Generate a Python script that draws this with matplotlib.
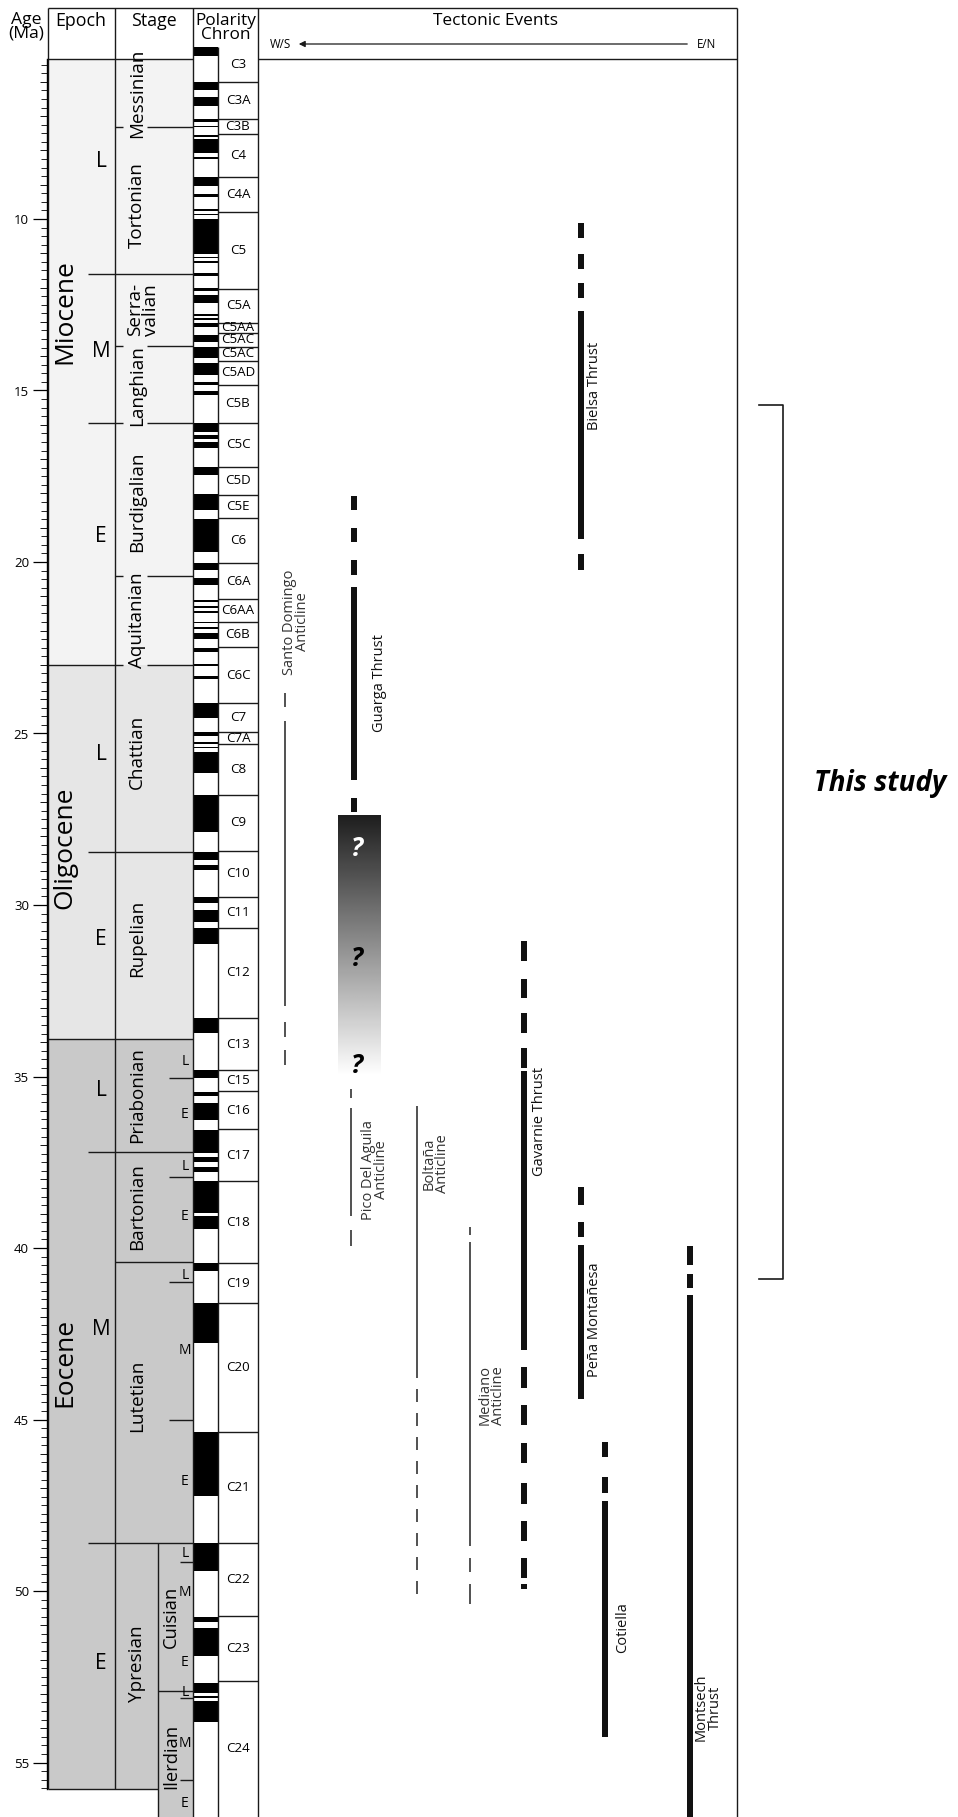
import numpy as np
import matplotlib.pyplot as plt

plt.rcParams['font.family'] = ['Open Sans', 'DejaVu Sans']

# ---- time scale (ages in Ma) ----
epoch_names = ['Miocene', 'Oligocene', 'Eocene']
epoch_tops = [5.33, 23.0, 33.91]
epoch_bases = [23.0, 33.91, 55.78]
epoch_label_ages = [12.7, 28.34, 43.33]
epoch_colors = ['#f3f3f3', '#e6e6e6', '#c9c9c9']

subepoch_labels = ['L', 'M', 'E', 'L', 'E', 'L', 'M', 'E']
subepoch_label_ages = [8.33, 13.87, 19.26, 25.62, 31.02, 35.4, 42.39, 52.1]
subepoch_bounds = [11.61, 15.96, 28.45, 37.21, 48.6]

stage_names = ['Messinian', 'Tortonian', 'Serra-\nvalian', 'Langhian', 'Burdigalian',
               'Aquitanian', 'Chattian', 'Rupelian', 'Priabonian', 'Bartonian',
               'Lutetian', 'Ypresian']
stage_tops = [5.33, 7.31, 11.61, 13.69, 15.96, 20.41, 23.0, 28.45, 33.91, 37.21, 40.42, 48.6]
stage_label_ages = [6.35, 9.59, 12.65, 14.87, 18.23, 21.69, 25.55, 30.96, 35.55, 38.8, 44.31, 52.13]
stage_gap_bounds = [7.31, 13.69, 15.96, 20.41, 23.0]

regstage_names = ['Cuisian', 'Ilerdian']
regstage_tops = [48.6, 52.91]
regstage_label_ages = [50.76, 54.81]

substage_labels = ['L', 'E', 'L', 'E', 'L', 'M', 'E', 'L', 'M', 'E', 'L', 'M', 'E']
substage_ages = [34.57, 36.12, 37.63, 39.09, 40.79, 42.98, 46.81, 48.92, 50.05, 52.08, 52.96, 54.44, 56.2]
substage_long_ticks = [35.05, 37.94, 40.98, 45.0]
substage_short_ticks = [49.14, 53.13, 55.51]

chron_names = ['C3', 'C3A', 'C3B', 'C4', 'C4A', 'C5', 'C5A', 'C5AA', 'C5AC', 'C5AC', 'C5AD',
               'C5B', 'C5C', 'C5D', 'C5E', 'C6', 'C6A', 'C6AA', 'C6B', 'C6C', 'C7', 'C7A',
               'C8', 'C9', 'C10', 'C11', 'C12', 'C13', 'C15', 'C16', 'C17', 'C18', 'C19',
               'C20', 'C21', 'C22', 'C23', 'C24']
chron_tops = [4.99, 6.01, 7.08, 7.52, 8.77, 9.79, 12.05, 13.02, 13.33, 13.72, 14.13,
              14.84, 15.94, 17.22, 18.05, 18.73, 20.02, 21.09, 21.74, 22.49, 24.12, 24.95,
              25.32, 26.78, 28.43, 29.76, 30.66, 33.30, 34.81, 35.42, 36.54, 38.06, 40.45,
              41.60, 45.37, 48.60, 50.73, 52.62]

normal_polarity = [
    (4.99, 5.24), (6.01, 6.24), (6.45, 6.70), (7.09, 7.18), (7.28, 7.33), (7.55, 7.62),
    (7.68, 8.08), (8.20, 8.26), (8.77, 9.03), (9.28, 9.37), (9.71, 9.76), (9.84, 9.89),
    (10.01, 11.03), (11.10, 11.15), (11.22, 11.27), (11.58, 11.65), (12.02, 12.09),
    (12.22, 12.44), (12.78, 12.83), (12.90, 12.95), (13.02, 13.14), (13.38, 13.58),
    (13.72, 14.06), (14.21, 14.55), (14.75, 14.84), (15.02, 15.13), (15.96, 16.20),
    (16.30, 16.40), (16.50, 16.69), (17.22, 17.46), (18.02, 18.48), (18.76, 19.70),
    (20.04, 20.23), (20.48, 20.67), (21.11, 21.18), (21.27, 21.33), (21.43, 21.49),
    (21.74, 21.79), (21.89, 21.96), (22.08, 22.25), (22.52, 22.62), (22.98, 23.04),
    (23.32, 23.40), (24.12, 24.56), (24.97, 25.06), (25.24, 25.31), (25.39, 25.43),
    (25.53, 26.16), (26.78, 27.86), (28.45, 28.69), (28.83, 28.98), (29.76, 29.95),
    (30.15, 30.49), (30.66, 31.14), (33.30, 33.74), (34.81, 35.05), (35.44, 35.57),
    (35.76, 36.27), (36.56, 37.22), (37.36, 37.50), (37.63, 37.78), (38.06, 38.99),
    (39.07, 39.46), (40.45, 40.66), (41.61, 42.78), (45.37, 47.22), (48.60, 49.42),
    (50.75, 50.91), (51.07, 51.89), (52.69, 52.98), (53.06, 53.11), (53.21, 53.81)]

# ---- tectonic events ----
event_names = ['Santo Domingo\nAnticline', 'Guarga Thrust', 'Pico Del Aguila\nAnticline',
               'Boltaña\nAnticline', 'Mediano\nAnticline', 'Gavarnie Thrust',
               'Bielsa Thrust', 'Peña Montañesa', 'Cotiella', 'Montsech\nThrust']
event_kind = ['anticline', 'thrust', 'anticline', 'anticline', 'anticline', 'thrust',
              'thrust', 'thrust', 'thrust', 'thrust']
event_solid = [(24.63, 32.95), (20.74, 26.36), (35.93, 39.07), (35.87, 43.80), (39.82, 48.70),
               (34.85, 42.96), (12.67, 19.32), (39.92, 44.41), (47.38, 54.27), (41.37, 56.59)]
event_dashes = [
    [(23.81, 24.22), (33.40, 33.84), (34.24, 34.66)],
    [(18.07, 18.47), (19.01, 19.42), (19.93, 20.37), (26.87, 27.28)],
    [(35.36, 35.63), (39.48, 39.95)],
    [(44.10, 44.50), (44.80, 45.20), (45.50, 45.90), (46.20, 46.60), (46.90, 47.30),
     (47.60, 48.00), (48.30, 48.70), (49.00, 49.40), (49.70, 50.10)],
    [(39.40, 39.62), (49.04, 49.44), (49.80, 50.38)],
    [(31.04, 31.64), (32.15, 32.72), (33.16, 33.74), (34.18, 34.75), (43.46, 44.07),
     (44.58, 45.15), (45.69, 46.27), (46.84, 47.45), (47.95, 48.53), (49.04, 49.61),
     (49.81, 49.95)],
    [(10.13, 10.54), (11.01, 11.45), (11.86, 12.29), (19.76, 20.23)],
    [(38.23, 38.74), (39.24, 39.68)],
    [(45.66, 46.10), (46.67, 47.14)],
    [(39.95, 40.49), (40.76, 41.17)]]
event_x = [285, 354, 351, 417, 470, 524, 581, 581, 605, 690]
event_label_x = [296, 380, 375, 436, 492, 540, 595, 595, 623, 708]
event_label_ages = [21.75, 23.54, 37.72, 37.55, 44.3, 36.3, 14.86, 42.1, 51.06, 53.4]

uncertain_top, uncertain_base = 27.41, 35.0
question_ages = [28.35, 31.55, 34.67]
question_colors = ['white', 'black', 'black']

study_top, study_base = 15.43, 40.9

# ---- page geometry (pixels) ----
PX_PER_MA = 34.3
Y0 = -124.0


def age_at(px):
    return (px - Y0) / PX_PER_MA


age_bottom = age_at(1817)
row_top = age_at(8)
head_base = 5.33
EP_L, EP_R, SUB_X, ST_R, CU_L, POL_R, CH_R, TE_R = 48, 115, 88, 193, 158, 218, 258, 737
LC = '#1a1a1a'
LW = 1.0

fig = plt.figure(figsize=(9.58, 18.17), dpi=100)
ax = fig.add_axes([0, 0, 1, 1])

# column fills
for top, base, col in zip(epoch_tops, epoch_bases, epoch_colors):
    ax.bar((EP_L + ST_R) / 2, base - top, bottom=top, width=ST_R - EP_L, color=col, lw=0)
ax.bar((CU_L + ST_R) / 2, age_bottom - epoch_bases[-1], bottom=epoch_bases[-1],
       width=ST_R - CU_L, color=epoch_colors[-1], lw=0)

# polarity
for t, b in normal_polarity:
    ax.bar((ST_R + POL_R) / 2, b - t, bottom=t, width=POL_R - ST_R, color='black', lw=0)

# frame
ax.vlines([EP_L, EP_R], epoch_bases[-1], row_top, color=LC, lw=LW)
ax.vlines([ST_R, CH_R, TE_R], age_bottom, row_top, color=LC, lw=LW)
ax.vlines(POL_R, age_bottom, chron_tops[0], color=LC, lw=LW)
ax.vlines(CU_L, age_bottom, regstage_tops[0], color=LC, lw=LW)
ax.hlines(row_top, EP_L, TE_R, color=LC, lw=LW)
ax.hlines(head_base, EP_L, ST_R, color=LC, lw=LW)
ax.hlines(head_base, CH_R, TE_R, color=LC, lw=LW)
ax.hlines(epoch_bases[-1], EP_L, CU_L, color=LC, lw=LW)

# stage / epoch boundaries
for a in stage_tops[1:]:
    x0 = EP_L if a in epoch_tops else (SUB_X if a in subepoch_bounds else EP_R)
    if a in stage_gap_bounds:
        ax.hlines(a, x0, 123, color=LC, lw=LW)
        ax.hlines(a, 147, ST_R, color=LC, lw=LW)
    else:
        ax.hlines(a, x0, ST_R, color=LC, lw=LW)
ax.hlines(regstage_tops[1], CU_L, ST_R, color=LC, lw=LW)
ax.hlines(substage_long_ticks, 169, ST_R, color=LC, lw=LW)
ax.hlines(substage_short_ticks, 180, ST_R, color=LC, lw=LW)

# texts of the time scale
for name, a in zip(epoch_names, epoch_label_ages):
    ax.text(65, a, name, rotation=90, ha='center', va='center', fontsize=19)
for lab, a in zip(subepoch_labels, subepoch_label_ages):
    ax.text(101, a, lab, ha='center', va='center', fontsize=15)
for name, a in zip(stage_names, stage_label_ages):
    ax.text(143 if '\n' in name else 137, a, name, rotation=90, ha='center', va='center',
            fontsize=13.6, linespacing=0.8, multialignment='center')
for name, a in zip(regstage_names, regstage_label_ages):
    ax.text(171, a, name, rotation=90, ha='center', va='center', fontsize=13.2)
for lab, a in zip(substage_labels, substage_ages):
    ax.text(185, a, lab, ha='center', va='center', fontsize=10)

# chron labels
chron_bases = chron_tops[1:] + [age_bottom]
ax.hlines(chron_tops[1:], POL_R, CH_R, color=LC, lw=LW)
for name, t, b in zip(chron_names, chron_tops, chron_bases):
    ax.text((POL_R + CH_R) / 2, (t + b) / 2, name, ha='center', va='center', fontsize=9.6)

# tectonic events
for name, kind, solid, dashes, x, lx, la in zip(event_names, event_kind, event_solid,
                                                 event_dashes, event_x, event_label_x,
                                                 event_label_ages):
    w = 5.5 if kind == 'thrust' else 2.6
    col = '#111111' if kind == 'thrust' else '#555555'
    for t, b in [solid] + dashes:
        ax.bar(x, b - t, bottom=t, width=w, color=col, lw=0)
    ax.text(lx, la, name, rotation=90, ha='center', va='center', fontsize=10.5,
            color='#111111' if kind == 'thrust' else '#333333', linespacing=0.9,
            multialignment='center')

grad = np.linspace(0.12, 1.0, 256)[:, None]
ax.imshow(grad, extent=(338, 381, uncertain_base, uncertain_top), cmap='gray', vmin=0, vmax=1,
          aspect='auto', interpolation='bilinear')
for a, c in zip(question_ages, question_colors):
    ax.text(357, a, '?', ha='center', va='center', fontsize=19, fontweight='bold',
            fontstyle='italic', color=c)

# study bracket
ax.plot([759, 783, 783, 759], [study_top, study_top, study_base, study_base], color=LC, lw=1.2)
ax.text(880, (study_top + study_base) / 2 - 1.7, 'This study', ha='center', va='center',
        fontsize=20, fontweight='bold', fontstyle='italic')

# header
ax.text(26, age_at(27), 'Age\n(Ma)', ha='center', va='center', fontsize=12.6, linespacing=0.8)
ax.text(81, age_at(21), 'Epoch', ha='center', va='center', fontsize=12.8)
ax.text(154, age_at(21), 'Stage', ha='center', va='center', fontsize=12.8)
ax.text(226, age_at(28), 'Polarity\nChron', ha='center', va='center', fontsize=12.4,
        linespacing=0.85)
ax.text(496, age_at(21), 'Tectonic Events', ha='center', va='center', fontsize=12.4)
ax.text(280, age_at(44), 'W/S', ha='center', va='center', fontsize=8.3)
ax.text(707, age_at(44), 'E/N', ha='center', va='center', fontsize=8.3)
ax.annotate('', xy=(296, age_at(44)), xytext=(690, age_at(44)),
            arrowprops=dict(arrowstyle='-|>', color=LC, lw=0.9, mutation_scale=9))

# age axis
ax.set_xlim(0, 958)
ax.set_ylim(age_bottom, row_top - 8 / PX_PER_MA)
for s in ['top', 'right', 'bottom']:
    ax.spines[s].set_visible(False)
ax.spines['left'].set_position(('data', 47))
ax.spines['left'].set_bounds(head_base, epoch_bases[-1])
ax.spines['left'].set_linewidth(LW)
ax.set_xticks([])
ax.set_yticks(np.arange(10, 56, 5))
ax.set_yticks(np.arange(5.5, 55.8, 0.25), minor=True)
ax.tick_params(axis='y', which='major', length=10, width=0.9, labelsize=9.5, pad=3)
ax.tick_params(axis='y', which='minor', length=4, width=0.6)
mid_ticks = [a for a in np.arange(6, 56, 1) if a % 5 != 0]
ax.hlines(mid_ticks, 40, 47, color=LC, lw=0.7)

fig.savefig('out.png', dpi=100)
